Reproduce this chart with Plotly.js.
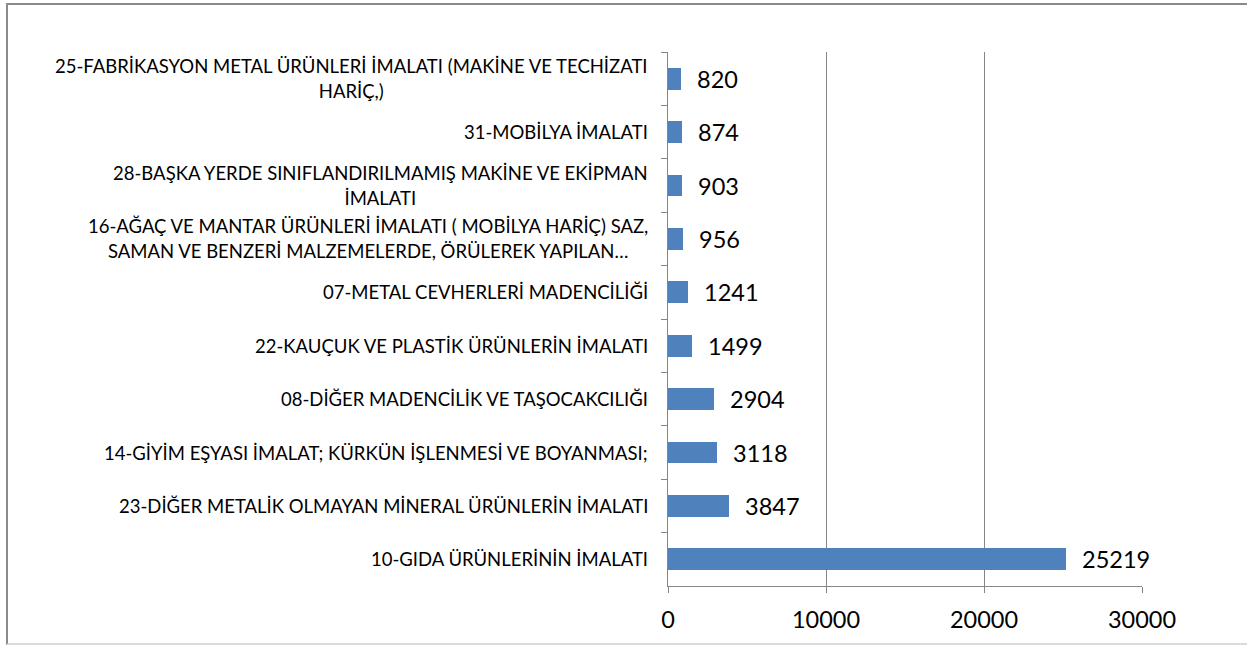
<!DOCTYPE html>
<html>
<head>
<meta charset="utf-8">
<script src="https://cdn.plot.ly/plotly-3.0.1.min.js"></script>
<style>
  html, body { margin: 0; padding: 0; background: #fff; overflow: hidden; }
  #chart { width: 1247px; height: 648px; }
  #frame { position: absolute; left: 6px; top: 3px; width: 1260px; height: 642px;
           border: 2px solid #8a8a8a; border-bottom: 2px solid #d9d9d9; pointer-events: none; box-sizing: border-box; }
</style>
</head>
<body>
<div id="chart"></div>
<div id="frame"></div>
<script>
const categories = [
  "25-FABRİKASYON METAL ÜRÜNLERİ İMALATI (MAKİNE VE TECHİZATI<br>HARİÇ,)",
  "31-MOBİLYA İMALATI",
  "28-BAŞKA YERDE SINIFLANDIRILMAMIŞ MAKİNE VE EKİPMAN<br>İMALATI",
  "16-AĞAÇ VE MANTAR ÜRÜNLERİ İMALATI ( MOBİLYA HARİÇ) SAZ,<br>SAMAN VE BENZERİ MALZEMELERDE, ÖRÜLEREK YAPILAN…",
  "07-METAL CEVHERLERİ MADENCİLİĞİ",
  "22-KAUÇUK VE PLASTİK ÜRÜNLERİN İMALATI",
  "08-DİĞER MADENCİLİK VE TAŞOCAKCILIĞI",
  "14-GİYİM EŞYASI İMALAT; KÜRKÜN İŞLENMESİ VE BOYANMASI;",
  "23-DİĞER METALİK OLMAYAN MİNERAL ÜRÜNLERİN İMALATI",
  "10-GIDA ÜRÜNLERİNİN İMALATI"
];
const values = [820, 874, 903, 956, 1241, 1499, 2904, 3118, 3847, 25219];
const xTickValues = [0, 10000, 20000, 30000];
const xTickLabels = ["0", "10000", "20000", "30000"];

const FONT = "Lato, 'Open Sans', sans-serif";
const ids = categories.map((c, i) => "c" + i);

const trace = {
  type: "bar",
  orientation: "h",
  x: values,
  y: ids,
  marker: { color: "#4F81BD", line: { width: 0 } },
  width: 0.41,
  hoverinfo: "none"
};

const catAnnotations = categories.map((c, i) => ({
  xref: "paper", yref: "y",
  x: 0, y: ids[i],
  xanchor: "right", yanchor: "middle",
  xshift: -18,
  align: "center",
  showarrow: false,
  text: c.split("<br>").map(s => '<span style="font-size:18.5px">' + s + '</span>').join("<br>"),
  font: { family: FONT, size: 19, color: "#000" }
}));

const valAnnotations = values.map((v, i) => ({
  xref: "x", yref: "y",
  x: v, y: ids[i],
  xanchor: "left", yanchor: "middle",
  xshift: 14,
  showarrow: false,
  text: String(v),
  font: { family: FONT, size: 23.5, color: "#000" }
}));

const layout = {
  width: 1247, height: 648,
  margin: { l: 668, r: 105, t: 52, b: 62, pad: 0 },
  paper_bgcolor: "#fff", plot_bgcolor: "#fff",
  showlegend: false,
  bargap: 0,
  font: { family: FONT, color: "#000" },
  xaxis: {
    range: [0, 30000],
    tickvals: xTickValues, ticktext: xTickLabels,
    showgrid: true, gridcolor: "#868686", gridwidth: 1,
    zeroline: false,
    showline: true, linecolor: "#868686", linewidth: 1,
    ticks: "outside", ticklen: 6, tickcolor: "#868686",
    tickfont: { family: FONT, size: 23.5, color: "#000" },
    ticklabelstandoff: 7,
    fixedrange: true
  },
  yaxis: {
    type: "category",
    autorange: "reversed",
    showticklabels: false,
    showgrid: false, zeroline: false,
    showline: true, linecolor: "#868686", linewidth: 1,
    ticks: "outside", ticklen: 6, tickcolor: "#868686",
    tickson: "boundaries",
    fixedrange: true
  },
  annotations: catAnnotations.concat(valAnnotations)
};

Plotly.newPlot("chart", [trace], layout, { displayModeBar: false, staticPlot: true });
</script>
</body>
</html>
